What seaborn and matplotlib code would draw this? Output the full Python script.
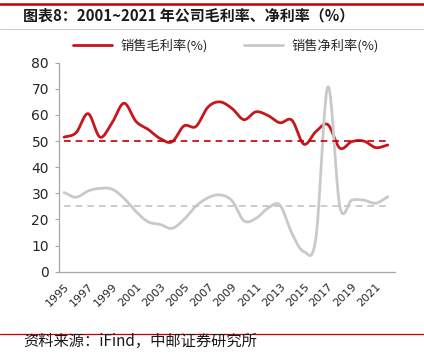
import numpy as np
import pandas as pd
import seaborn as sns
from matplotlib import pyplot as plt
from matplotlib.lines import Line2D

sns.set_style('white')
plt.rcParams['font.family'] = ['Noto Sans CJK SC', 'DejaVu Sans']

years = list(range(1995, 2023))
gross_margin = [51.5, 53.2, 60.5, 51.5, 57.0, 64.5, 57.5, 54.5, 51.0, 49.7, 55.8, 55.6, 63.0,
                65.0, 62.5, 58.2, 61.2, 59.8, 57.0, 58.0, 48.8, 53.6, 56.3, 47.3, 49.8, 50.0,
                47.5, 48.5]
net_margin = [30.3, 28.5, 30.9, 31.9, 31.6, 28.1, 23.0, 19.1, 18.1, 16.6, 20.0, 25.1, 28.3,
              29.4, 27.2, 19.5, 20.4, 24.3, 25.5, 14.7, 7.7, 12.8, 70.8, 24.9, 27.4, 27.4,
              26.2, 28.7]
gross_avg = 50
net_avg = 25
xtick_years = list(range(1995, 2022, 2))

RED = '#c8161d'
GREY = '#c9c9c9'


def smooth(x, y, steps=20):
    # catmull-rom, like the excel "smoothed line" option
    x = np.asarray(x, float)
    y = np.asarray(y, float)
    px = np.concatenate([[2 * x[0] - x[1]], x, [2 * x[-1] - x[-2]]])
    py = np.concatenate([[2 * y[0] - y[1]], y, [2 * y[-1] - y[-2]]])
    out_x, out_y = [], []
    for i in range(1, len(px) - 2):
        t = np.linspace(0, 1, steps, endpoint=False)
        for p, o in ((px, out_x), (py, out_y)):
            p0, p1, p2, p3 = p[i - 1], p[i], p[i + 1], p[i + 2]
            o.extend(0.5 * (2 * p1 + (-p0 + p2) * t + (2 * p0 - 5 * p1 + 4 * p2 - p3) * t ** 2
                            + (-p0 + 3 * p1 - 3 * p2 + p3) * t ** 3))
    out_x.append(x[-1])
    out_y.append(y[-1])
    return out_x, out_y


gx, gy = smooth(years, gross_margin)
nx, ny = smooth(years, net_margin)
df = pd.concat([
    pd.DataFrame({'year': gx, 'value': gy, 'series': '销售毛利率(%)'}),
    pd.DataFrame({'year': nx, 'value': ny, 'series': '销售净利率(%)'}),
])

fig = plt.figure(figsize=(4.24, 3.63), dpi=100)
ax = fig.add_axes([0.1384, 0.2515, 0.7932, 0.5758])

sns.lineplot(data=df, x='year', y='value', hue='series', palette=[RED, GREY],
             linewidth=2.0, sort=False, estimator=None, legend=False, ax=ax)
ax.hlines(gross_avg, years[0], years[-1], colors='#c00000', linestyles=(0, (4, 3)), linewidth=1.2)
ax.hlines(net_avg, years[0], years[-1], colors='#c4c4c4', linestyles=(0, (4, 3)), linewidth=1.2)

ax.set_xlim(1994.55, 2022.6)
ax.set_ylim(0, 80)
ax.set_yticks(range(0, 81, 10))
ax.set_xticks(xtick_years)
ax.set_xticklabels([str(y) for y in xtick_years], rotation=45, ha='right',
                   rotation_mode='anchor', fontsize=8, family='DejaVu Sans')
for lab in ax.get_yticklabels():
    lab.set_family('DejaVu Sans')
ax.tick_params(axis='y', labelsize=10, length=3, color='#a6a6a6', left=True, pad=4)
ax.tick_params(axis='x', length=0, pad=7)
ax.set_xlabel('')
ax.set_ylabel('')
for s in ['top', 'right']:
    ax.spines[s].set_visible(False)
for s in ['left', 'bottom']:
    ax.spines[s].set_color('#a6a6a6')
    ax.spines[s].set_linewidth(0.9)

handles = [Line2D([], [], color=RED, lw=2.0), Line2D([], [], color=GREY, lw=2.0)]
fig.legend(handles, ['销售毛利率(%)', '销售净利率(%)'], loc='center', ncol=2,
           bbox_to_anchor=(0.532, 0.873), frameon=False, fontsize=9.5,
           handlelength=3.0, columnspacing=2.75, handletextpad=0.6)

# header / footer rules
fig.add_artist(Line2D([0, 1], [0.989, 0.989], color='#c00000', lw=1.8))
fig.add_artist(Line2D([0, 1], [0.920, 0.920], color='#bfbfbf', lw=0.6))
fig.add_artist(Line2D([0, 1], [0.081, 0.081], color='#c00000', lw=0.9))
fig.text(0.055, 0.957, '图表8：2001~2021 年公司毛利率、净利率（%）', fontsize=10.8,
         fontweight='semibold', va='center', color='#1a1a1a')
fig.text(0.055, 0.058, '资料来源：iFind，中邮证券研究所', fontsize=11, va='center', color='#1a1a1a')

fig.savefig('out.png', dpi=100)
